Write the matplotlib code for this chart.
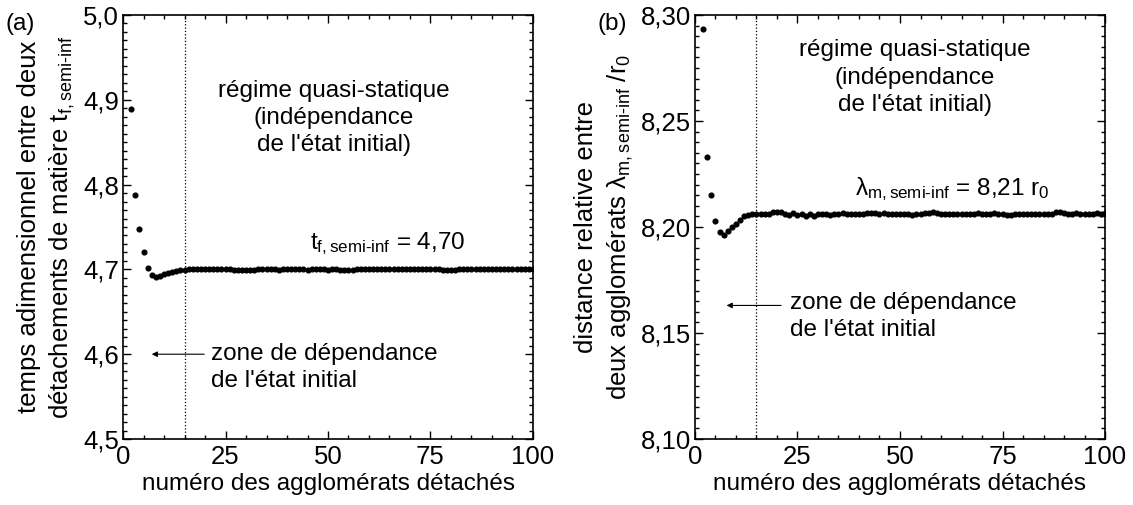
import matplotlib
matplotlib.use("Agg")
import matplotlib.pyplot as plt
from matplotlib.ticker import MultipleLocator, FixedLocator, FixedFormatter

plt.rcParams['font.family'] = ['Liberation Sans', 'DejaVu Sans']
plt.rcParams['mathtext.fontset'] = 'custom'
plt.rcParams['mathtext.rm'] = 'Liberation Sans'
plt.rcParams['mathtext.it'] = 'Liberation Sans'

# numéro des agglomérats détachés
num = list(range(2, 101))

# (a) temps adimensionnel t_f
t_debut = [4.889, 4.788, 4.748, 4.720, 4.702, 4.693, 4.691, 4.692, 4.694,
           4.696, 4.697, 4.698, 4.699, 4.6995]
t_palier = [4.700, 4.700, 4.700, 4.700, 4.700, 4.700, 4.700, 4.700, 4.700, 4.700,
            4.700, 4.6995, 4.6995, 4.699, 4.6995, 4.699, 4.6995, 4.700, 4.700, 4.700,
            4.700, 4.700, 4.6995, 4.700, 4.700, 4.700, 4.700, 4.700, 4.700, 4.6995,
            4.700, 4.700, 4.700, 4.700, 4.6995, 4.700, 4.700, 4.6995, 4.699, 4.699,
            4.6995, 4.700, 4.700, 4.700, 4.700, 4.700, 4.700, 4.700, 4.700, 4.700,
            4.700, 4.700, 4.700, 4.700, 4.700, 4.700, 4.700, 4.700, 4.700, 4.700,
            4.700, 4.700, 4.6995, 4.699, 4.699, 4.6995, 4.700, 4.700, 4.700, 4.700,
            4.700, 4.700, 4.700, 4.700, 4.700, 4.700, 4.700, 4.700, 4.700, 4.700,
            4.700, 4.700, 4.700, 4.700, 4.700]
t_f = t_debut + t_palier

# (b) distance relative lambda_m / r0
lam_debut = [8.2934, 8.233, 8.215, 8.203, 8.1975, 8.196, 8.198, 8.200, 8.2015,
             8.2035, 8.205, 8.2055, 8.206]
lam_palier = [8.2063, 8.2063, 8.2063, 8.2063, 8.2072, 8.2073, 8.2072, 8.2063, 8.2058,
              8.2066, 8.2055, 8.2062, 8.2053, 8.2062, 8.2052, 8.2062, 8.2063, 8.2063,
              8.2055, 8.2062, 8.2063, 8.2068, 8.2063, 8.2063, 8.2063, 8.2063, 8.2063,
              8.2068, 8.2068, 8.2068, 8.2063, 8.2068, 8.2063, 8.2063, 8.2063, 8.2063,
              8.2063, 8.2063, 8.2055, 8.2063, 8.2063, 8.2068, 8.2068, 8.2072, 8.2068,
              8.2063, 8.2063, 8.2063, 8.2063, 8.2063, 8.2063, 8.2063, 8.2063, 8.2063,
              8.2068, 8.2063, 8.2063, 8.2063, 8.2068, 8.2063, 8.2063, 8.2058, 8.2055,
              8.2063, 8.2063, 8.2063, 8.2063, 8.2063, 8.2063, 8.2063, 8.2063, 8.2063,
              8.2063, 8.2072, 8.2072, 8.2068, 8.2063, 8.2063, 8.2068, 8.2063, 8.2063,
              8.2063, 8.2063, 8.2068, 8.2063, 8.2068]
lam = lam_debut + lam_palier

x_ticks = [0, 25, 50, 75, 100]
x_labels = ['0', '25', '50', '75', '100']
ya_ticks = [4.5, 4.6, 4.7, 4.8, 4.9, 5.0]
ya_labels = ['4,5', '4,6', '4,7', '4,8', '4,9', '5,0']
yb_ticks = [8.10, 8.15, 8.20, 8.25, 8.30]
yb_labels = ['8,10', '8,15', '8,20', '8,25', '8,30']

FS_TICK = 18.5
FS_LAB = 17.5
FS_YLAB = 18.5
FS_TXT = 17.5

fig = plt.figure(figsize=(11.33, 5.05), dpi=100)
ax1 = fig.add_axes([0.1086, 0.1307, 0.3618, 0.8396])
ax2 = fig.add_axes([0.6134, 0.1307, 0.3619, 0.8396])


def style_axes(ax, yticks, ylabels, ymin, ymax, yminor):
    ax.set_xlim(0, 100)
    ax.set_ylim(ymin, ymax)
    ax.xaxis.set_major_locator(FixedLocator(x_ticks))
    ax.xaxis.set_major_formatter(FixedFormatter(x_labels))
    ax.xaxis.set_minor_locator(MultipleLocator(5))
    ax.yaxis.set_major_locator(FixedLocator(yticks))
    ax.yaxis.set_major_formatter(FixedFormatter(ylabels))
    ax.yaxis.set_minor_locator(MultipleLocator(yminor))
    ax.tick_params(which='both', direction='in', top=True, right=True,
                   labelsize=FS_TICK, width=1.0)
    ax.tick_params(axis='x', which='both', pad=4)
    ax.tick_params(axis='y', which='both', pad=3)
    ax.tick_params(which='major', length=6)
    ax.tick_params(which='minor', length=3)
    for s in ax.spines.values():
        s.set_linewidth(1.2)
    ax.set_xlabel('numéro des agglomérats détachés', fontsize=FS_LAB, labelpad=3)
    ax.axvline(15, color='black', linestyle=':', linewidth=0.9)


# (a)
style_axes(ax1, ya_ticks, ya_labels, 4.5, 5.0, 0.01)
ax1.plot(num, t_f, 'o', color='black', markersize=3.4)
ax1.set_ylabel('temps adimensionnel entre deux\n'
               r'détachements de matière t$_{\mathregular{f,semi\text{-}inf}}$',
               fontsize=FS_YLAB, labelpad=4, linespacing=1.35)
ax1.text(51.5, 4.879, "régime quasi-statique\n(indépendance\nde l'état initial)",
         ha='center', va='center', fontsize=FS_TXT, linespacing=1.3)
ax1.text(45.5, 4.7235, r't$_{\mathregular{f,semi\text{-}inf}}$ = 4,70',
         ha='left', va='baseline', fontsize=FS_TXT)
ax1.annotate('', xy=(7, 4.6), xytext=(19.8, 4.6),
             arrowprops=dict(arrowstyle='-|>', color='black', lw=0.8,
                             mutation_scale=8, shrinkA=0, shrinkB=0))
ax1.text(21.5, 4.613, "zone de dépendance\nde l'état initial",
         ha='left', va='top', fontsize=FS_TXT, linespacing=1.3)
fig.text(0.005, 0.975, '(a)', fontsize=FS_TXT, ha='left', va='top')

# (b)
style_axes(ax2, yb_ticks, yb_labels, 8.10, 8.30, 0.005)
ax2.plot(num, lam, 'o', color='black', markersize=3.4)
ax2.set_ylabel('distance relative entre\n'
               r'deux agglomérats $\mathregular{\lambda_{m,semi\text{-}inf}}$ /r$_{\mathregular{0}}$',
               fontsize=FS_YLAB, labelpad=4, linespacing=1.35)
ax2.text(53.7, 8.2705, "régime quasi-statique\n(indépendance\nde l'état initial)",
         ha='center', va='center', fontsize=FS_TXT, linespacing=1.3)
ax2.text(39, 8.2152, r'$\mathregular{\lambda_{m,semi\text{-}inf}}$ = 8,21 r$_{\mathregular{0}}$',
         ha='left', va='baseline', fontsize=FS_TXT)
ax2.annotate('', xy=(7.7, 8.163), xytext=(21, 8.163),
             arrowprops=dict(arrowstyle='-|>', color='black', lw=0.8,
                             mutation_scale=8, shrinkA=0, shrinkB=0))
ax2.text(23.2, 8.1695, "zone de dépendance\nde l'état initial",
         ha='left', va='top', fontsize=FS_TXT, linespacing=1.3)
fig.text(0.527, 0.975, '(b)', fontsize=FS_TXT, ha='left', va='top')

fig.savefig('out.png', dpi=100)
